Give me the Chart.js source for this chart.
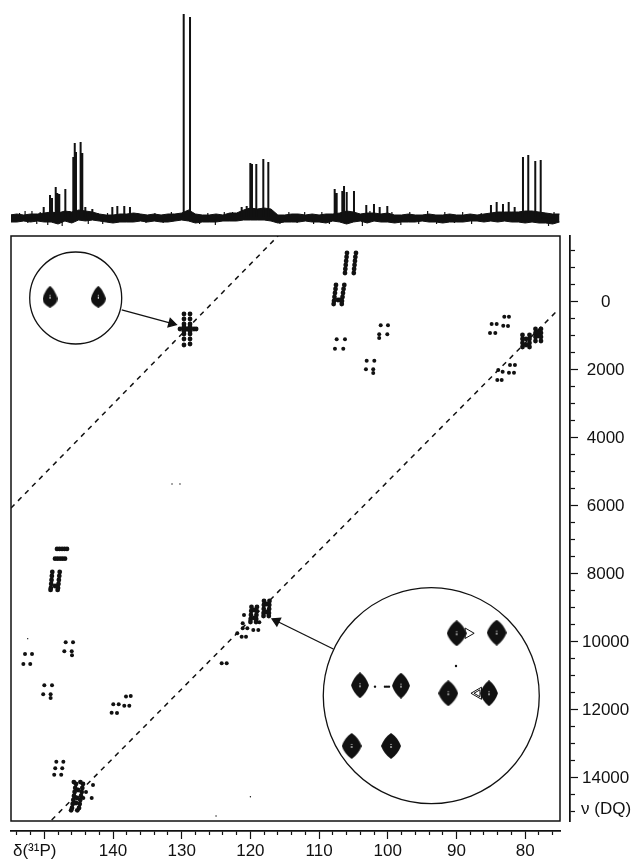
<!DOCTYPE html>
<html>
<head>
<meta charset="utf-8">
<title>2D 31P DQ spectrum</title>
<style>
  html, body { margin: 0; background: #fff; }
  #page { position: relative; width: 634px; height: 859px; overflow: hidden; }
  canvas { position: absolute; left: 0; top: 0; }
</style>
<script src="https://cdn.jsdelivr.net/npm/chart.js@4/dist/chart.umd.js"></script>
</head>
<body>
<div id="page">
  <canvas id="map" width="634" height="859"></canvas>
  <canvas id="spectrum" width="634" height="226"></canvas>
</div>
<script>
/* axis limits, ppm and Hz */
const ppmLeft = 154.85;
const ppmRight = 74.93;
const dqTop = -1941;
const dqBottom = 15265;

/* tick positions */
const ppmMajorTicks = [150, 140, 130, 120, 110, 100, 90, 80];
const ppmMinorTicks = [154, 152, 148, 146, 144, 142, 138, 136, 134, 132, 128, 126, 124, 122, 118, 116, 114, 112,
  108, 106, 104, 102, 98, 96, 94, 92, 88, 86, 84, 82, 78, 76];
const dqMajorTicks = [0, 2000, 4000, 6000, 8000, 10000, 12000, 14000];
const dqMinorTicks = [-1500, -1000, -500, 500, 1000, 1500, 2500, 3000, 3500, 4500, 5000, 5500, 6500, 7000, 7500,
  8500, 9000, 9500, 10500, 11000, 11500, 12500, 13000, 13500, 14500, 15000];

/* 1D projection: sticks */
const peakPpm = [150.09, 149.17, 148.88, 148.34, 148.11, 147.82, 146.94, 145.78, 145.57, 145.39, 144.80, 144.66,
  144.47, 144.03, 143.01, 140.10, 139.37, 138.36, 137.53, 129.71, 128.79, 121.27, 120.54, 120.01, 119.77, 119.14,
  118.12, 117.39, 107.73, 107.44, 106.62, 106.37, 105.98, 104.92, 103.13, 102.01, 101.18, 100.07, 84.98, 84.15,
  83.23, 82.40, 81.53, 80.32, 79.55, 78.53, 77.74];
const peakHeight = [11, 23, 20, 31, 25, 24, 29, 61, 75, 66, 66, 76,
  65, 11, 9, 11, 12, 12, 11, 204, 201, 11, 12, 55, 54, 54,
  59, 56, 29, 25, 27, 32, 26, 27, 13, 14, 11, 12, 13, 16,
  14, 16, 11, 61, 63, 57, 58];

/* 1D projection: small spikes sticking out of the noise band */
const spikePpm = [153.6, 152.8, 152.4, 151.8, 151.1, 150.6, 149.5, 147.4, 146.3, 143.6, 142.2, 141.5, 140.8, 136.4,
  135.2, 133.9, 132.7, 131.5, 127.4, 126.2, 125.1, 123.8, 122.6, 115.7, 114.4, 113.2, 112.1, 110.8, 109.6, 108.5,
  103.7, 102.6, 99.4, 98.1, 96.8, 95.5, 94.2, 92.9, 91.7, 90.3, 89.1, 87.8, 86.4, 76.6, 75.8];
const spikeHeight = [5, 7, -5, 7, -6, 6, -7, -8, 7, -6, 5, -6, 5, 5,
  -5, 5, -5, 6, -6, 5, -7, 6, 6, -6, 6, -5, 6, -6, 6, -6,
  -8, 7, 6, -7, 6, -6, 7, -6, 6, -5, 6, -6, 5, -8, 6];

/* 1D projection: noise band around the baseline, one value per ppm from 155 down to 75 */
const noisePpm = [155, 154, 153, 152, 151, 150, 149, 148, 147, 146,
  145, 144, 143, 142, 141, 140, 139, 138, 137, 136,
  135, 134, 133, 132, 131, 130, 129, 128, 127, 126,
  125, 124, 123, 122, 121, 120, 119, 118, 117, 116,
  115, 114, 113, 112, 111, 110, 109, 108, 107, 106,
  105, 104, 103, 102, 101, 100, 99, 98, 97, 96,
  95, 94, 93, 92, 91, 90, 89, 88, 87, 86,
  85, 84, 83, 82, 81, 80, 79, 78, 77, 76, 75];
const noiseUpper = [3, 4, 3, 4, 4, 5, 6, 5, 7, 6,
  8, 7, 6, 4, 3, 3, 4, 4, 5, 4,
  3, 4, 3, 4, 4, 5, 8, 4, 3, 3,
  4, 3, 5, 5, 8, 10, 9, 10, 9, 3,
  3, 4, 4, 3, 4, 3, 4, 4, 5, 7,
  6, 4, 5, 5, 4, 5, 3, 3, 4, 3,
  3, 4, 3, 3, 4, 3, 3, 4, 3, 4,
  5, 6, 6, 6, 6, 7, 7, 6, 5, 4, 4];
const noiseLower = [-4, -4, -3, -4, -3, -4, -4, -6, -3, -5,
  -2, -3, -2, -3, -4, -5, -4, -4, -4, -3,
  -4, -3, -4, -4, -3, -2, -3, -5, -4, -4,
  -4, -3, -3, -3, -2, -2, -2, -2, -3, -5,
  -4, -4, -4, -3, -4, -4, -5, -3, -4, -6,
  -4, -3, -5, -3, -4, -4, -5, -4, -4, -4,
  -3, -4, -4, -5, -4, -4, -4, -3, -3, -4,
  -3, -4, -3, -4, -4, -5, -4, -5, -5, -6, -4];

/* 2D map: isolated cross peaks [ppm, Hz] */
const crossPeaks = [
  [107.44, 1097], [106.23, 1097], [107.69, 1373], [106.48, 1373],
  [101.03, 685], [99.97, 685], [101.25, 950], [100.07, 950], [101.25, 1059],
  [103.07, 1726], [101.96, 1726], [103.18, 1979], [102.12, 1979], [102.12, 2088],
  [83.04, 432], [82.36, 432], [84.88, 647], [84.15, 647], [83.19, 697], [82.5, 706], [85.12, 912], [84.35, 912],
  [82.21, 1853], [81.49, 1853], [83.28, 2050], [82.36, 2079], [81.63, 2079], [84.06, 2294], [83.42, 2294], [83.92, 2000],
  [152.81, 10353], [151.79, 10353], [153.05, 10647], [152.05, 10647],
  [146.89, 10009], [145.82, 10009], [147.09, 10273], [146.01, 10273], [145.97, 10391],
  [150.0, 11273], [148.88, 11273], [150.16, 11538], [149.08, 11538], [149.08, 11647],
  [138.11, 11602], [137.42, 11590], [139.96, 11832], [139.17, 11832], [138.36, 11873], [137.63, 11873], [140.2, 12079], [139.42, 12088],
  [148.25, 13520], [147.23, 13520], [148.41, 13714], [147.39, 13714], [148.56, 13902], [147.54, 13902],
  [142.91, 14206], [143.93, 14412], [143.1, 14588], [144.32, 14588],
  [120.93, 9206], [121.12, 9450], [121.12, 9597], [120.45, 9597], [119.58, 9647], [118.85, 9647], [118.7, 9420],
  [121.91, 9744], [121.27, 9844], [120.64, 9844], [124.18, 10626], [123.45, 10626]
];

/* 2D map: the dense multiplets, drawn as overlapping spots [ppm, Hz] */
const multiplets = [
  [129.67, 353], [129.67, 500], [129.67, 647], [129.67, 794], [129.67, 941], [129.67, 1088], [129.67, 1265],
  [128.79, 353], [128.79, 500], [128.79, 647], [128.79, 794], [128.79, 941], [128.79, 1088], [128.79, 1235],
  [130.25, 794], [129.23, 794], [128.21, 794], [127.9, 794], [129.67, 720], [128.79, 720], [129.67, 870], [128.79, 870],
  [105.94, -1441], [106.0, -1323], [106.06, -1206], [106.12, -1088], [106.18, -971], [106.23, -853],
  [104.63, -1441], [104.72, -1323], [104.78, -1206], [104.84, -1088], [104.9, -971], [104.95, -853],
  [107.54, -500], [107.61, -382], [107.69, -265], [107.76, -147], [107.83, -29], [107.88, 59],
  [106.33, -500], [106.44, -382], [106.52, -265], [106.59, -147], [106.67, -29], [106.7, 59],
  [107.25, -59], [106.96, -59],
  [80.39, 971], [80.39, 1088], [80.39, 1206], [80.39, 1323], [79.37, 971], [79.37, 1088], [79.37, 1206], [79.37, 1323],
  [79.88, 1088], [79.88, 1265],
  [78.5, 794], [78.5, 912], [78.5, 1029], [78.5, 1147], [77.7, 794], [77.7, 912], [77.7, 1029], [77.7, 1147],
  [78.13, 882], [78.13, 1000],
  [148.15, 7264], [147.79, 7264], [147.42, 7264], [147.06, 7264], [146.7, 7264],
  [148.44, 7550], [148.08, 7550], [147.71, 7550], [147.35, 7550], [146.99, 7550],
  [148.84, 7941], [148.9, 8058], [148.95, 8176], [149.0, 8294], [149.05, 8411], [149.09, 8470],
  [147.76, 7941], [147.82, 8058], [147.88, 8176], [147.94, 8294], [148.0, 8411], [148.06, 8470], [148.44, 8353],
  [145.39, 14176], [145.5, 14294], [145.59, 14412], [145.68, 14529], [145.78, 14647], [145.87, 14765], [145.97, 14882],
  [144.37, 14176], [144.47, 14294], [144.56, 14412], [144.66, 14529], [144.77, 14647], [144.85, 14765], [144.95, 14882],
  [145.09, 14353], [145.24, 14588], [145.39, 14735], [145.7, 14120], [144.75, 14120], [146.1, 14950], [145.2, 14950],
  [119.84, 8970], [119.88, 9088], [119.92, 9206], [119.96, 9323], [119.99, 9412],
  [119.04, 8970], [119.08, 9088], [119.12, 9206], [119.15, 9323], [119.18, 9412],
  [118.02, 8794], [118.04, 8912], [118.06, 9029], [118.08, 9147], [118.09, 9235],
  [117.22, 8794], [117.25, 8912], [117.27, 9029], [117.3, 9147], [117.32, 9235],
  [119.44, 9059], [119.44, 9294], [117.65, 8882], [117.65, 9118]
];

/* 2D map: very weak specks [ppm, Hz] */
const weakSpecks = [[131.41, 5353], [130.25, 5353], [152.42, 9902], [125.0, 15120], [120.0, 14550]];

/* dashed diagonals, two ends each [ppm, Hz] */
const upperDiagonal = [[154.85, 6059], [115.98, -1941]];
const lowerDiagonal = [[148.93, 15235], [75.52, 294]];

/* insets: circle centres and the peaks shown inside them [ppm, Hz] */
const insetCircles = [[145.43, -118], [93.67, 11579]];
const smallInsetPeaks = [[149.17, -156], [142.14, -156]];
const largeInsetPeaks = [[89.97, 9743], [84.15, 9726], [104.05, 11273], [98.08, 11285],
  [91.19, 11508], [85.27, 11508], [105.26, 13058], [99.53, 13058]];
const insetSpecks = [[90.07, 10705], [101.86, 11314], [100.41, 11314], [100.12, 11314], [99.83, 11314]];
const insetWings = [[88.3, 9743], [86.87, 11508], [86.87, 11508]];

/* arrows from the insets, tail then head [ppm, Hz] */
const upperArrow = [[138.73, 235], [131.48, 626]];
const lowerArrow = [[107.93, 10205], [116.2, 9382]];

const ink = '#111';
const fontFamily = '"Liberation Sans", Arial, sans-serif';

const toPoints = pairs => pairs.map(([x, y]) => ({ x, y }));

// contour blobs of the insets are solid shapes, used as point images
function blobShape(w, h, topShare, bulge) {
  const c = document.createElement('canvas');
  c.width = w;
  c.height = h;
  const g = c.getContext('2d');
  const waist = h * topShare;
  g.fillStyle = ink;
  g.beginPath();
  g.moveTo(w / 2, 0);
  g.quadraticCurveTo(w * 0.84, waist * 0.36, w, waist);
  g.quadraticCurveTo(w * bulge, h - (h - waist) * 0.36, w / 2, h);
  g.quadraticCurveTo(w * (1 - bulge), h - (h - waist) * 0.36, 0, waist);
  g.quadraticCurveTo(w * 0.16, waist * 0.36, w / 2, 0);
  g.fill();
  g.fillStyle = '#fff';
  g.fillRect(w / 2 - 0.5, h * 0.42, 1, 1);
  g.fillRect(w / 2 - 0.5, h * 0.5, 1, 2);
  return c;
}

const tearDrop = blobShape(15, 22, 0.58, 0.98);
const wideDiamond = blobShape(20, 26, 0.5, 0.84);
const narrowDiamond = blobShape(18, 26, 0.5, 0.84);
const diamondStyles = [wideDiamond, wideDiamond, narrowDiamond, narrowDiamond, wideDiamond, narrowDiamond, wideDiamond, wideDiamond];

/* ---------- spectrum on top ---------- */
const stickPoints = [];
peakPpm.forEach((ppm, i) => {
  stickPoints.push({ x: ppm, y: 0 }, { x: ppm, y: peakHeight[i] }, { x: ppm, y: 0 });
});
const spikePoints = [];
spikePpm.forEach((ppm, i) => {
  spikePoints.push({ x: ppm, y: 0 }, { x: ppm, y: spikeHeight[i] }, { x: ppm, y: 0 });
});

new Chart(document.getElementById('spectrum'), {
  type: 'scatter',
  data: {
    datasets: [
      { data: stickPoints, showLine: true, borderColor: ink, borderWidth: 2, pointRadius: 0 },
      { data: spikePoints, showLine: true, borderColor: ink, borderWidth: 1.2, pointRadius: 0 },
      {
        data: noisePpm.map((x, i) => ({ x, y: noiseUpper[i] })), showLine: true, borderColor: ink, borderWidth: 1,
        pointRadius: 0, backgroundColor: ink, fill: '+1'
      },
      { data: noisePpm.map((x, i) => ({ x, y: noiseLower[i] })), showLine: true, borderColor: ink, borderWidth: 1, pointRadius: 0 }
    ]
  },
  options: {
    responsive: false,
    animation: false,
    events: [],
    layout: { autoPadding: false, padding: { left: 11, right: 74, top: 13, bottom: 0 } },
    plugins: { legend: { display: false }, tooltip: { enabled: false } },
    scales: {
      x: { type: 'linear', reverse: true, min: ppmRight, max: ppmLeft, display: false },
      y: { type: 'linear', min: -8, max: 205, display: false }
    }
  }
});

/* ---------- 2D map ---------- */
// the axes sit apart from the frame, so they get no room in the layout and are moved out afterwards
const axisGap = 10;
function noPadding(scale) {
  scale.paddingLeft = scale.paddingRight = scale.paddingTop = scale.paddingBottom = 0;
}
const noRoomX = scale => { scale.height = 0; noPadding(scale); };
const noRoomY = scale => { scale.width = 0; noPadding(scale); };

const detachedAxes = {
  id: 'detachedAxes',
  afterLayout(chart) {
    ['x', 'xMinor'].forEach(id => {
      chart.scales[id].top += axisGap;
      chart.scales[id].bottom = chart.height;   // labels are clipped to the scale box
    });
    ['y', 'yMinor'].forEach(id => {
      chart.scales[id].left += axisGap;
      chart.scales[id].right = chart.width;
    });
  },
  beforeDatasetsDraw(chart) {
    const { ctx, chartArea: a } = chart;
    ctx.save();
    ctx.strokeStyle = ink;
    ctx.lineWidth = 1.5;
    ctx.strokeRect(a.left, a.top, a.right - a.left, a.bottom - a.top);
    ctx.restore();
  },
  afterDraw(chart) {
    const { ctx } = chart;
    ctx.save();
    ctx.fillStyle = ink;
    ctx.font = '17px ' + fontFamily;
    ctx.textBaseline = 'middle';
    ctx.textAlign = 'left';
    ctx.fillText('δ(³¹P)', 13, 851);
    ctx.fillText('ν (DQ)', 581, 809);
    ctx.restore();
  }
};

const useTicks = values => scale => {
  scale.ticks = values.map(value => ({ value }));
};

function axisOptions(extra, fit, tickLength, values) {
  return Object.assign({
    type: 'linear',
    afterFit: fit,
    afterBuildTicks: useTicks(values),
    border: { display: true, color: ink, width: 1.5 },
    grid: { drawOnChartArea: false, drawTicks: true, tickLength, tickColor: ink, tickWidth: 1.2 }
  }, extra);
}

const xRange = { position: 'bottom', reverse: true, min: ppmRight, max: ppmLeft };
const yRange = { position: 'right', reverse: true, min: dqTop, max: dqBottom };

new Chart(document.getElementById('map'), {
  type: 'scatter',
  data: {
    datasets: [
      { data: toPoints(smallInsetPeaks), pointStyle: tearDrop, pointRadius: 8 },
      { data: toPoints(largeInsetPeaks), pointStyle: diamondStyles, pointRadius: 10 },
      { data: toPoints(insetSpecks), pointRadius: 1.2, backgroundColor: ink, borderWidth: 0 },
      {
        data: toPoints(insetWings), pointStyle: 'triangle', pointRadius: [6, 7, 4], pointRotation: [90, -90, -90],
        backgroundColor: '#fff', borderColor: ink, borderWidth: 1
      },
      { data: toPoints(insetCircles), pointRadius: [46, 108], backgroundColor: '#fff', borderColor: ink, borderWidth: 1.3 },
      { data: toPoints(multiplets), pointRadius: 2.4, backgroundColor: ink, borderWidth: 0 },
      { data: toPoints(crossPeaks), pointRadius: 2, backgroundColor: ink, borderWidth: 0 },
      { data: toPoints(weakSpecks), pointRadius: 0.7, backgroundColor: ink, borderWidth: 0 },
      {
        data: toPoints(upperArrow), showLine: true, borderColor: ink, borderWidth: 1.3, pointStyle: 'triangle',
        pointRadius: [0, 5], pointRotation: [0, 105], backgroundColor: ink
      },
      {
        data: toPoints(lowerArrow), showLine: true, borderColor: ink, borderWidth: 1.3, pointStyle: 'triangle',
        pointRadius: [0, 5], pointRotation: [0, -64], backgroundColor: ink
      },
      { data: toPoints(upperDiagonal), showLine: true, borderColor: ink, borderWidth: 1.5, borderDash: [5, 5], pointRadius: 0 },
      { data: toPoints(lowerDiagonal), showLine: true, borderColor: ink, borderWidth: 1.5, borderDash: [5, 5], pointRadius: 0 }
    ]
  },
  options: {
    responsive: false,
    animation: false,
    events: [],
    layout: { autoPadding: false, padding: { left: 11, right: 74, top: 236, bottom: 38 } },
    plugins: { legend: { display: false }, tooltip: { enabled: false } },
    scales: {
      x: axisOptions(Object.assign({}, xRange, {
        ticks: {
          autoSkip: false, maxRotation: 0, padding: 2, color: ink,
          font: { family: fontFamily, size: 17 },
          callback: v => (v === 150 ? '' : String(v))
        }
      }), noRoomX, 8, ppmMajorTicks),
      xMinor: axisOptions(Object.assign({}, xRange, {
        ticks: { autoSkip: false, display: false }
      }), noRoomX, 4, ppmMinorTicks),
      y: axisOptions(Object.assign({}, yRange, {
        ticks: {
          autoSkip: false, padding: 4, crossAlign: 'center', color: ink,
          font: { family: fontFamily, size: 17 },
          callback: v => String(v)
        }
      }), noRoomY, 8, dqMajorTicks),
      yMinor: axisOptions(Object.assign({}, yRange, {
        ticks: { autoSkip: false, display: false }
      }), noRoomY, 5, dqMinorTicks)
    }
  },
  plugins: [detachedAxes]
});
</script>
</body>
</html>
